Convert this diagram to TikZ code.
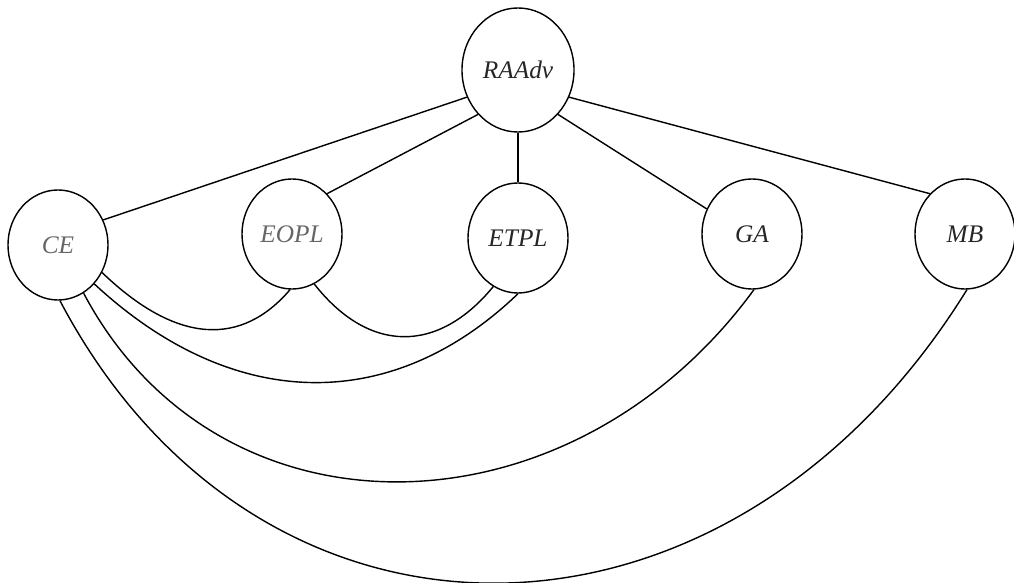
\documentclass[tikz,border=0pt]{standalone}
\usepackage{fontspec}
\setmainfont{Liberation Serif}
\usetikzlibrary{shapes.geometric}
\begin{document}
\begin{tikzpicture}[x=0.025cm, y=-0.025cm,
  concept/.style={draw, ellipse, line width=1pt, inner sep=0pt,
    minimum width=2.5cm, minimum height=2.75cm,
    font=\fontsize{18}{21}\selectfont\itshape, text=black!85},
  root/.style={concept, minimum width=2.8cm, minimum height=3.1cm},
  faint/.style={text=black!60},
  link/.style={line width=1pt}]
\useasboundingbox (0,0) rectangle (1014,583);

% concepts
\node[root] (RAAdv) at (518,70) {RAAdv};
\node[concept, faint] (CE) at (58,245) {CE};
\node[concept, faint] (EOPL) at (292,234) {EOPL};
\node[concept] (ETPL) at (518,238) {ETPL};
\node[concept] (GA) at (752,234) {GA};
\node[concept] (MB) at (965,234) {MB};

% straight links from the root
\draw[link] (RAAdv.-152) -- (CE.29);
\draw[link] (RAAdv.-132) -- (EOPL.49);
\draw[link] (RAAdv.-90) -- (ETPL.90);
\draw[link] (RAAdv.-48) -- (GA.151);
\draw[link] (RAAdv.-28) -- (MB.131);

% arcs below the row
\draw[link] (CE.-32) .. controls +(76,73) and +(-48,56) .. (EOPL.-92);
\draw[link] (EOPL.-66) .. controls +(55,70) and +(-55,67) .. (ETPL.-117);
\draw[link] (CE.-47) .. controls +(140,130) and +(-125,120) .. (ETPL.-90);
\draw[link] (CE.-62) .. controls +(135,255) and +(-185,253) .. (GA.-88);
\draw[link] (CE.-88) .. controls +(200,380) and +(-240,388) .. (MB.-88);
\end{tikzpicture}
\end{document}
